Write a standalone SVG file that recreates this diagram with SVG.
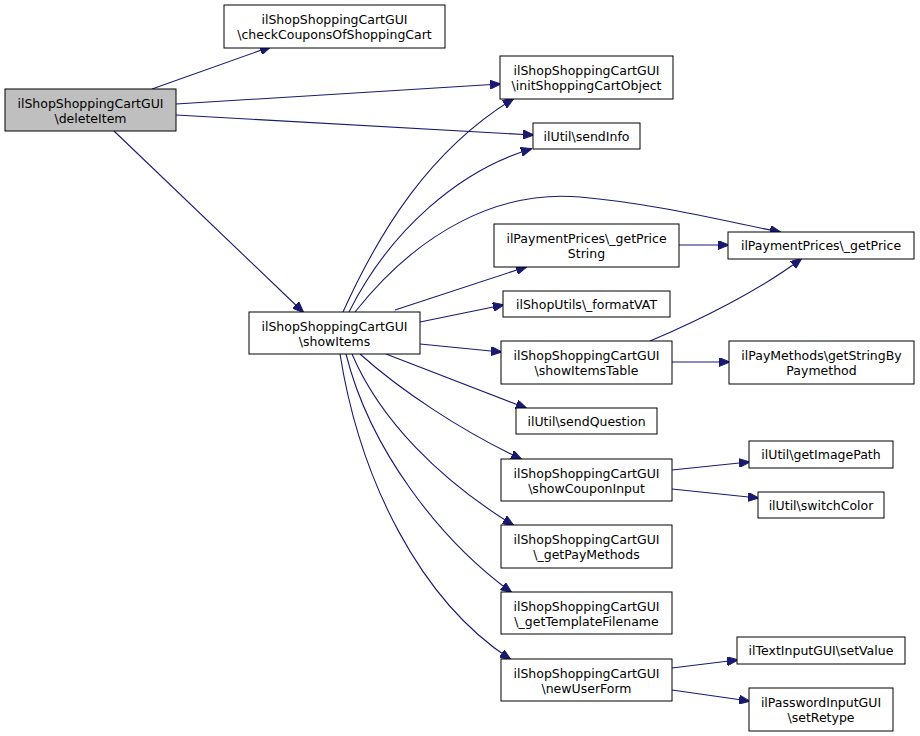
<svg xmlns="http://www.w3.org/2000/svg" width="920" height="736" viewBox="0 0 920 736">
<defs>
<marker id="ah" markerWidth="11" markerHeight="9" refX="10" refY="4.5" orient="auto" markerUnits="userSpaceOnUse">
<path d="M0,0 L11,4.5 L0,9 z" fill="#191970" stroke="#191970"/>
</marker>
<style>
.n rect{fill:#ffffff;stroke:#000000;stroke-width:1}
.n text{font-family:"DejaVu Sans",sans-serif;font-size:12.5px;fill:#000000;text-anchor:middle}
#edges path{fill:none;stroke:#191970;stroke-width:1.1;marker-end:url(#ah)}
</style>
</defs>
<rect width="920" height="736" fill="#ffffff"/>
<g id="edges">
<path d="M152,89 L270,47"/>
<path d="M176,104 L500,84"/>
<path d="M176,115 L533,135"/>
<path d="M114,131 L303,312"/>
<path d="M343,312 C380,230 430,150 513,99"/>
<path d="M349,312 C390,230 460,170 531,149"/>
<path d="M355,312 C420,230 500,190 580,197 C650,203 720,220 780,232"/>
<path d="M395,310 L526,267"/>
<path d="M420,322 L503,305"/>
<path d="M420,344 L501,352"/>
<path d="M386,354 L526,408"/>
<path d="M360,354 C400,390 460,430 521,459"/>
<path d="M352,354 C380,420 440,480 513,525"/>
<path d="M346,354 C370,450 440,540 511,592"/>
<path d="M340,354 C360,480 420,600 510,659"/>
<path d="M679,245 L728,245"/>
<path d="M650,341 C700,320 760,290 801,259"/>
<path d="M672,362 L729,362"/>
<path d="M672,470 L749,462"/>
<path d="M672,489 L758,498"/>
<path d="M672,668 L737,660"/>
<path d="M672,690 L749,701"/>
</g>
<g id="deleteItem" class="n"><rect x="5" y="89" width="171" height="42" style="fill:#bfbfbf"/><text x="90.5" y="107.5">ilShopShoppingCartGUI</text><text x="90.5" y="122.5">\deleteItem</text></g>
<g id="checkCoupons" class="n"><rect x="224" y="5" width="221" height="43"/><text x="334.5" y="23.5">ilShopShoppingCartGUI</text><text x="334.5" y="38.5">\checkCouponsOfShoppingCart</text></g>
<g id="initCart" class="n"><rect x="500" y="56" width="173" height="43"/><text x="586.5" y="74.5">ilShopShoppingCartGUI</text><text x="586.5" y="89.5">\initShoppingCartObject</text></g>
<g id="sendInfo" class="n"><rect x="533" y="123" width="107" height="26"/><text x="586.5" y="140.5">ilUtil\sendInfo</text></g>
<g id="showItems" class="n"><rect x="249" y="312" width="171" height="42"/><text x="334.5" y="330.5">ilShopShoppingCartGUI</text><text x="334.5" y="345.5">\showItems</text></g>
<g id="getPriceString" class="n"><rect x="494" y="224" width="185" height="43"/><text x="586.5" y="242.5">ilPaymentPrices\_getPrice</text><text x="586.5" y="257.5">String</text></g>
<g id="formatVAT" class="n"><rect x="503" y="291" width="167" height="26"/><text x="586.5" y="308.5">ilShopUtils\_formatVAT</text></g>
<g id="showItemsTable" class="n"><rect x="501" y="341" width="171" height="43"/><text x="586.5" y="359.5">ilShopShoppingCartGUI</text><text x="586.5" y="374.5">\showItemsTable</text></g>
<g id="sendQuestion" class="n"><rect x="516" y="408" width="141" height="26"/><text x="586.5" y="425.5">ilUtil\sendQuestion</text></g>
<g id="showCouponInput" class="n"><rect x="501" y="459" width="171" height="42"/><text x="586.5" y="477.5">ilShopShoppingCartGUI</text><text x="586.5" y="492.5">\showCouponInput</text></g>
<g id="getPayMethods" class="n"><rect x="501" y="525" width="171" height="43"/><text x="586.5" y="543.5">ilShopShoppingCartGUI</text><text x="586.5" y="558.5">\_getPayMethods</text></g>
<g id="getTemplateFilename" class="n"><rect x="501" y="592" width="171" height="42"/><text x="586.5" y="610.5">ilShopShoppingCartGUI</text><text x="586.5" y="625.5">\_getTemplateFilename</text></g>
<g id="newUserForm" class="n"><rect x="501" y="659" width="171" height="42"/><text x="586.5" y="677.5">ilShopShoppingCartGUI</text><text x="586.5" y="692.5">\newUserForm</text></g>
<g id="getPrice" class="n"><rect x="728" y="232" width="186" height="27"/><text x="821" y="249.5">ilPaymentPrices\_getPrice</text></g>
<g id="getStringByPaymethod" class="n"><rect x="729" y="341" width="185" height="43"/><text x="821.5" y="359.5">ilPayMethods\getStringBy</text><text x="821.5" y="374.5">Paymethod</text></g>
<g id="getImagePath" class="n"><rect x="749" y="441" width="144" height="27"/><text x="821" y="458.5">ilUtil\getImagePath</text></g>
<g id="switchColor" class="n"><rect x="758" y="492" width="126" height="26"/><text x="821" y="509.5">ilUtil\switchColor</text></g>
<g id="setValue" class="n"><rect x="737" y="637" width="168" height="27"/><text x="821" y="654.5">ilTextInputGUI\setValue</text></g>
<g id="setRetype" class="n"><rect x="749" y="688" width="144" height="43"/><text x="821" y="706.5">ilPasswordInputGUI</text><text x="821" y="721.5">\setRetype</text></g>
</svg>
